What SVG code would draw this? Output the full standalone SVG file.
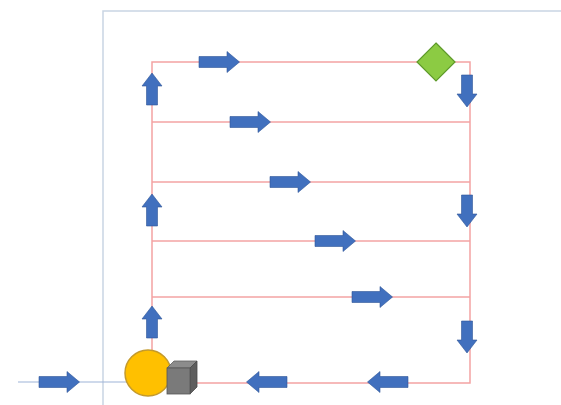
<svg xmlns="http://www.w3.org/2000/svg" xmlns:xlink="http://www.w3.org/1999/xlink" width="561" height="405" viewBox="0 0 561 405">
  <defs>
    <style>
      .frame { stroke: #C9D5E3; stroke-width: 1.5; fill: none; }
      .route { stroke: #F3A3A3; stroke-width: 1.5; fill: none; }
      .axis { stroke: #9DB3D8; stroke-width: 1.2; fill: none; }
      .arr { fill: #4170BE; stroke: #2F5597; stroke-width: 0.6; }
    </style>
    <path id="harrow" class="arr" d="M-20,-5.5 H8 V-10.5 L20.5,0 L8,10.5 V5.5 H-20 Z"/>
    <path id="varrow" class="arr" d="M-16,-5.5 H3 V-10 L16,0 L3,10 V5.5 H-16 Z"/>
  </defs>
  <rect width="561" height="405" fill="#FFFFFF"/>

  <g id="frame">
    <path class="frame" d="M103,405 V11 H561"/>
  </g>

  <g id="connectors">
    <line class="axis" x1="18" y1="382" x2="130" y2="382"/>
    <path class="route" d="M152,350 V62 H470 V383 H190"/>
    <line class="route" x1="152" y1="122" x2="470" y2="122"/>
    <line class="route" x1="152" y1="182" x2="470" y2="182"/>
    <line class="route" x1="152" y1="241" x2="470" y2="241"/>
    <line class="route" x1="152" y1="297" x2="470" y2="297"/>

    <use xlink:href="#harrow" transform="translate(59,382)"/>
    <use xlink:href="#harrow" transform="translate(219,62)"/>
    <use xlink:href="#harrow" transform="translate(250,122)"/>
    <use xlink:href="#harrow" transform="translate(290,182)"/>
    <use xlink:href="#harrow" transform="translate(335,241)"/>
    <use xlink:href="#harrow" transform="translate(372,297)"/>
    <use xlink:href="#harrow" transform="translate(267,382) rotate(180)"/>
    <use xlink:href="#harrow" transform="translate(388,382) rotate(180)"/>

    <use xlink:href="#varrow" transform="translate(152,89) rotate(-90)"/>
    <use xlink:href="#varrow" transform="translate(152,210) rotate(-90)"/>
    <use xlink:href="#varrow" transform="translate(152,322) rotate(-90)"/>
    <use xlink:href="#varrow" transform="translate(467,91) rotate(90)"/>
    <use xlink:href="#varrow" transform="translate(467,211) rotate(90)"/>
    <use xlink:href="#varrow" transform="translate(467,337) rotate(90)"/>
  </g>

  <g id="start-circle">
    <circle cx="148" cy="373" r="23" fill="#FFC000" stroke="#C49A2C" stroke-width="1.5"/>
  </g>

  <g id="cube">
    <polygon points="167,368 174,361 197,361 190,368" fill="#8C8C8C" stroke="#5F5F5F" stroke-width="0.8"/>
    <polygon points="190,368 197,361 197,387 190,394" fill="#5E5E5E" stroke="#4A4A4A" stroke-width="0.8"/>
    <rect x="167" y="368" width="23" height="26" fill="#7A7A7A" stroke="#555555" stroke-width="0.8"/>
  </g>

  <g id="goal-diamond">
    <polygon points="436,43 455,62 436,81 417,62" fill="#8CCB43" stroke="#5E9A2A" stroke-width="1.2"/>
  </g>
</svg>
